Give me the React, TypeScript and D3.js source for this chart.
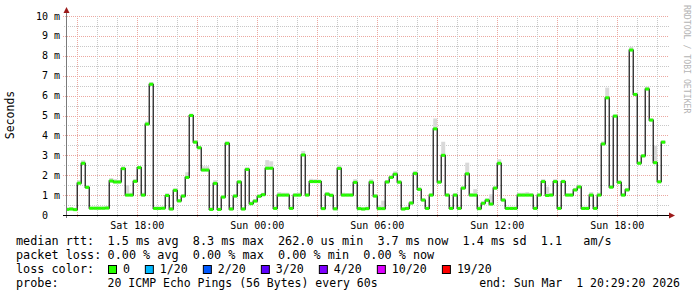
import React from 'react';
import * as d3 from 'd3';

// median RTT per 12-minute step (ms)
const medians = [
  0.28, 0.30, 0.27, 1.60, 2.60, 1.39, 0.34, 0.34, 0.34, 0.34,
  0.35, 1.71, 1.66, 1.66, 2.33, 1.00, 1.00, 1.69, 2.38, 1.00,
  4.57, 6.57, 0.33, 0.33, 0.34, 0.98, 0.30, 1.24, 0.71, 0.95,
  1.89, 5.00, 3.66, 3.38, 2.26, 2.26, 0.28, 1.59, 0.28, 0.90,
  3.60, 0.30, 0.95, 1.66, 0.30, 2.29, 0.57, 0.70, 0.94, 1.02,
  2.35, 2.35, 0.33, 1.00, 1.00, 1.00, 0.33, 1.00, 1.00, 3.02,
  1.00, 1.68, 1.68, 1.68, 0.32, 1.05, 0.99, 0.31, 2.34, 1.00,
  1.00, 1.00, 1.64, 0.32, 0.30, 0.32, 1.65, 0.95, 0.32, 0.32,
  1.66, 1.89, 2.05, 1.65, 0.30, 0.33, 0.60, 2.09, 1.29, 0.75,
  0.33, 1.00, 4.33, 1.65, 3.00, 1.00, 0.33, 1.00, 0.33, 1.35,
  2.07, 1.00, 1.00, 0.32, 0.59, 0.74, 0.55, 1.35, 2.60, 0.75,
  0.33, 0.33, 0.33, 1.00, 1.00, 1.00, 1.00, 0.33, 1.00, 1.68,
  0.98, 1.00, 1.68, 0.33, 1.68, 1.00, 1.00, 1.26, 1.41, 0.33,
  0.33, 1.00, 0.33, 1.00, 3.57, 5.89, 1.40, 4.97, 1.64, 1.00,
  1.26, 8.29, 6.06, 2.60, 2.97, 6.33, 4.77, 2.63, 1.67, 3.66,
];

// smoke (range of pings) upper edge per step (ms)
const smokeMax = [
  0.38, 0.40, 0.36, 1.75, 2.75, 1.50, 0.42, 0.42, 0.42, 0.42,
  0.44, 1.86, 1.80, 1.76, 2.45, 1.50, 1.12, 1.80, 2.46, 1.12,
  4.70, 6.68, 0.42, 0.42, 0.42, 1.10, 0.40, 1.34, 0.80, 1.05,
  2.15, 5.10, 3.75, 3.46, 2.45, 2.45, 0.38, 1.75, 0.36, 1.00,
  3.70, 0.40, 1.05, 1.76, 0.40, 2.40, 0.68, 0.80, 1.04, 1.12,
  2.76, 2.70, 0.42, 1.15, 1.12, 1.12, 0.42, 1.10, 1.12, 3.22,
  1.10, 1.82, 1.80, 1.78, 0.40, 1.15, 1.08, 0.40, 2.50, 1.12,
  1.10, 1.10, 1.80, 0.42, 0.40, 0.42, 1.80, 1.05, 0.50, 0.72,
  1.76, 1.98, 2.20, 1.75, 0.40, 0.42, 0.70, 2.22, 1.38, 0.85,
  0.42, 1.10, 4.85, 1.75, 3.68, 1.10, 0.42, 1.10, 0.42, 1.45,
  2.63, 1.10, 1.30, 0.45, 0.68, 0.84, 1.04, 1.45, 2.80, 0.85,
  0.42, 0.42, 0.42, 1.12, 1.12, 1.15, 1.10, 0.42, 1.10, 1.80,
  1.42, 1.10, 1.80, 0.42, 1.78, 1.10, 1.10, 1.36, 1.52, 0.42,
  0.42, 1.15, 0.42, 1.12, 3.70, 6.40, 1.50, 5.05, 1.75, 1.10,
  1.36, 8.45, 6.12, 2.70, 3.06, 6.45, 4.85, 3.48, 1.76, 3.75,
];

// smoke lower edge per step (ms)
const smokeMin = [
  0.22, 0.23, 0.21, 1.52, 2.52, 1.31, 0.27, 0.27, 0.27, 0.27,
  0.28, 1.62, 1.58, 1.58, 2.25, 0.93, 0.93, 1.61, 2.30, 0.93,
  4.49, 6.49, 0.26, 0.26, 0.27, 0.90, 0.23, 1.16, 0.63, 0.88,
  1.81, 4.92, 3.58, 3.30, 2.18, 2.18, 0.21, 1.51, 0.21, 0.83,
  3.52, 0.23, 0.88, 1.58, 0.23, 2.21, 0.50, 0.63, 0.87, 0.95,
  2.27, 2.27, 0.26, 0.93, 0.93, 0.93, 0.26, 0.93, 0.93, 2.94,
  0.93, 1.60, 1.60, 1.60, 0.25, 0.97, 0.92, 0.24, 2.26, 0.93,
  0.93, 0.93, 1.56, 0.25, 0.23, 0.25, 1.57, 0.88, 0.25, 0.25,
  1.58, 1.81, 1.97, 1.57, 0.23, 0.26, 0.52, 2.01, 1.21, 0.67,
  0.26, 0.93, 4.25, 1.57, 2.92, 0.93, 0.26, 0.93, 0.26, 1.27,
  1.99, 0.93, 0.93, 0.25, 0.51, 0.66, 0.47, 1.27, 2.52, 0.67,
  0.26, 0.26, 0.26, 0.93, 0.93, 0.93, 0.93, 0.26, 0.93, 1.60,
  0.91, 0.93, 1.60, 0.26, 1.60, 0.93, 0.93, 1.18, 1.33, 0.26,
  0.26, 0.93, 0.26, 0.93, 3.49, 5.81, 1.32, 4.89, 1.56, 0.93,
  1.18, 8.21, 5.98, 2.52, 2.89, 6.25, 4.69, 2.55, 1.59, 3.58,
];

const yTickValues = [0, 1, 2, 3, 4, 5, 6, 7, 8, 9, 10];
const yTickLabels = ['0  ', '1 m', '2 m', '3 m', '4 m', '5 m', '6 m', '7 m', '8 m', '9 m', '10 m'];
const xTickTimes = [
  new Date(2026, 1, 28, 18, 0, 0),
  new Date(2026, 2, 1, 0, 0, 0),
  new Date(2026, 2, 1, 6, 0, 0),
  new Date(2026, 2, 1, 12, 0, 0),
  new Date(2026, 2, 1, 18, 0, 0),
];
const xTickLabels = ['Sat 18:00', 'Sun 00:00', 'Sun 06:00', 'Sun 12:00', 'Sun 18:00'];

const rttItems = ['1.5 ms avg', '8.3 ms max', '262.0 us min', '3.7 ms now', '1.4 ms sd', '1.1   am/s'];
const lossStatItems = ['0.00 % avg', '0.00 % max', '0.00 % min', '0.00 % now'];
const lossLabels = ['0', '1/20', '2/20', '3/20', '4/20', '10/20', '19/20'];
const lossColors = ['#26ff00', '#00b8ff', '#0059ff', '#5e00ff', '#7e00ff', '#dd00ff', '#ff0000'];

const startTime = new Date(2026, 1, 28, 14, 29, 20);
const endTime = new Date(2026, 2, 1, 20, 29, 20);
const firstStep = new Date(2026, 1, 28, 14, 24, 0);
const stepMinutes = 12;

const W = 697;
const H = 297;
const PL = 67;
const PR = 667;
const PB = 215;
const PT = 16;

const MONO = '"DejaVu Sans Mono", monospace';
const CW = 7.1;
const LFS = 11.8;
const COL = 107.6;

function layoutRow(items: string[]) {
  let cx = COL;
  return items.map((t) => {
    const x0 = cx;
    cx = x0 + t.length * CW + 2 * CW;
    return { x: x0, t };
  });
}

export default function App() {
  const x = d3.scaleTime().domain([startTime, endTime]).range([PL, PR]);
  const y = d3.scaleLinear().domain([0, 10]).range([PB, PT]);

  const steps = medians.map((m, k) => {
    const t0 = d3.timeMinute.offset(firstStep, k * stepMinutes);
    const t1 = d3.timeMinute.offset(firstStep, (k + 1) * stepMinutes);
    const x0 = Math.max(PL, x(t0));
    const x1 = Math.min(PR, x(t1));
    return { x0, x1, m, lo: smokeMin[k], hi: smokeMax[k] };
  });

  const linePts: [number, number][] = [];
  steps.forEach((s) => {
    linePts.push([s.x0, y(s.m)]);
    linePts.push([s.x1, y(s.m)]);
  });
  const medianPath = d3.line()(linePts) || '';

  const hours = d3.timeHour.range(d3.timeHour.ceil(startTime), endTime);
  const halfSteps = d3.range(0.5, 10.01, 0.5);

  let cx = 108;
  const lossItems = lossLabels.map((lab, i) => {
    const bx = cx;
    const tx = bx + 15;
    cx = tx + lab.length * 7.05 + 14.8;
    return { bx, tx, lab, color: lossColors[i] };
  });

  const row1 = layoutRow(rttItems);
  const row2 = layoutRow(lossStatItems);

  return (
    <svg
      width={W}
      height={H}
      style={{ position: 'absolute', left: 0, top: 0, background: '#fff' }}
      xmlns="http://www.w3.org/2000/svg"
    >
      <rect x={0} y={0} width={W} height={H} fill="#fff" />
      {halfSteps.map((v) => {
        const major = Math.abs(v - Math.round(v)) < 1e-6;
        const yy = Math.round(y(v)) + 0.5;
        return (
          <line
            key={'h' + v}
            x1={major ? 63 : 64}
            x2={PR + 2}
            y1={yy}
            y2={yy}
            stroke={major ? '#eba8a0' : '#c8c8c8'}
            strokeWidth={1}
            strokeDasharray="1,1"
          />
        );
      })}
      {hours.map((h) => {
        const major = h.getHours() % 3 === 0;
        const xx = Math.round(x(h)) + 0.5;
        return (
          <line
            key={'v' + h.getTime()}
            x1={xx}
            x2={xx}
            y1={PT}
            y2={PB + (major ? 3 : 2)}
            stroke={major ? '#eba8a0' : '#c8c8c8'}
            strokeWidth={1}
            strokeDasharray="1,1"
          />
        );
      })}

      {steps.map((s, k) => (
        <rect
          key={'s' + k}
          x={s.x0}
          y={y(s.hi)}
          width={s.x1 - s.x0}
          height={y(s.lo) - y(s.hi)}
          fill="#d9d9d9"
        />
      ))}

      <path d={medianPath} fill="none" stroke="#111" strokeWidth={1.2} />

      {steps.map((s, k) => (
        <rect
          key={'g' + k}
          x={s.x0}
          y={y(s.m) - 1.5}
          width={s.x1 - s.x0}
          height={3}
          fill={lossColors[0]}
        />
      ))}

      <line x1={66.5} x2={66.5} y1={PB + 3} y2={12} stroke="#7a7a7a" strokeWidth={1} />
      <path d="M63.5,13 L69.5,13 L66.5,7 Z" fill="#9c1a1a" />
      <line x1={63} x2={670} y1={215.5} y2={215.5} stroke="#000" strokeWidth={1} />
      <path d="M669,212.5 L669,218.5 L675,215.5 Z" fill="#9c1a1a" />

      {yTickValues.map((v, i) => (
        <text
          key={'yt' + v}
          x={60}
          y={y(v) + 3.5}
          textAnchor="end"
          fontFamily={MONO}
          fontSize={10}
          fill="#000"
          style={{ whiteSpace: 'pre' }}
          xmlSpace="preserve"
        >
          {yTickLabels[i]}
        </text>
      ))}

      {xTickTimes.map((t, i) => (
        <text
          key={'xt' + i}
          x={x(t)}
          y={229}
          textAnchor="middle"
          fontFamily={MONO}
          fontSize={10}
          fill="#000"
        >
          {xTickLabels[i]}
        </text>
      ))}

      <text
        transform="translate(14,115) rotate(-90)"
        textAnchor="middle"
        fontFamily={MONO}
        fontSize={11.5}
        fill="#000"
      >
        Seconds
      </text>

      <text
        transform="translate(684,5) rotate(90)"
        textAnchor="start"
        fontFamily={MONO}
        fontSize={8.2}
        fill="#b4b4b4"
      >
        RRDTOOL / TOBI OETIKER
      </text>

      <g fontFamily={MONO} fontSize={LFS} fill="#000" style={{ whiteSpace: 'pre' }}>
        <text x={16} y={245}>median rtt:</text>
        {row1.map((r) => (
          <text key={'r1' + r.t} x={r.x} y={245} xmlSpace="preserve">
            {r.t}
          </text>
        ))}
        <text x={16} y={259}>packet loss:</text>
        {row2.map((r) => (
          <text key={'r2' + r.t} x={r.x} y={259} xmlSpace="preserve">
            {r.t}
          </text>
        ))}
        <text x={16} y={273}>loss color:</text>
        {lossItems.map((it) => (
          <g key={'l' + it.lab}>
            <rect x={it.bx + 0.5} y={265.5} width={8} height={8} fill={it.color} stroke="#000" strokeWidth={1} />
            <text x={it.tx} y={273} fontSize={11.6}>
              {it.lab}
            </text>
          </g>
        ))}
        <text x={16} y={287}>probe:</text>
        <text x={COL} y={287} fontSize={11.5}>
          20 ICMP Echo Pings (56 Bytes) every 60s
        </text>
        <text x={680} y={287} textAnchor="end" fontSize={11.5} xmlSpace="preserve">
          end: Sun Mar  1 20:29:20 2026
        </text>
      </g>
    </svg>
  );
}
